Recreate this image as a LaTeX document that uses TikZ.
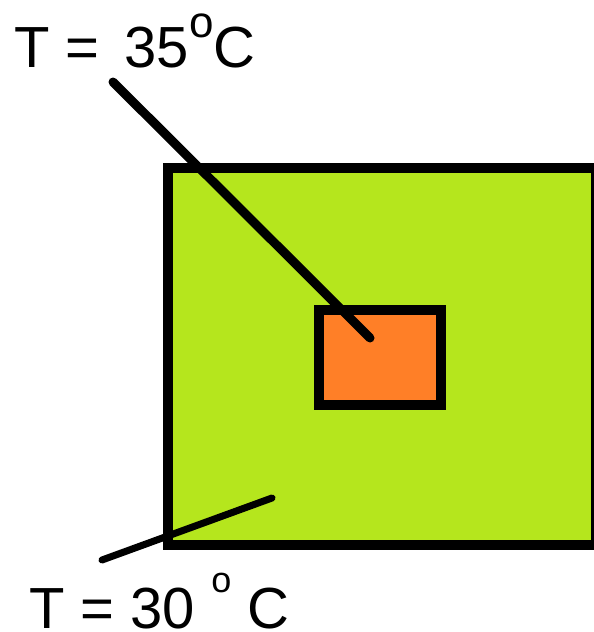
\documentclass[tikz,border=0pt]{standalone}
\usepackage{fontspec}
\setmainfont{Liberation Sans}
\definecolor{plategreen}{RGB}{181,230,29}
\definecolor{coreorange}{RGB}{255,127,39}
\tikzset{
  box/.style={draw,line width=10pt,inner sep=0pt,outer sep=0pt},
  probe/.style={line width=#1,line cap=round},
  temp/.style={anchor=base west,inner sep=0pt,font=\fontsize{58}{60}\selectfont}
}
\begin{document}
\begin{tikzpicture}[x=1pt,y=-1pt]
\useasboundingbox (0,0) rectangle (594,632);
\clip (0,0) rectangle (594,632);
\fill[white] (0,0) rectangle (594,632);
% plate and hot core
\node[box,fill=plategreen,minimum width=428pt,minimum height=377pt,anchor=north west] (plate) at (168,168) {};
\node[box,fill=coreorange,minimum width=122pt,minimum height=95pt] (core) at (380,357.5) {};
% labels
\node[temp] (lab35) at (14,67) {T =\hspace{9pt} 35\raisebox{30pt}{\fontsize{44}{44}\selectfont o}C};
\node[temp] (lab30) at (29,628) {T = 30 \raisebox{36pt}{\fontsize{36}{36}\selectfont o} C};
% probe lines
\coordinate (from35) at (113,82);
\coordinate (tip35) at (370,338);
\coordinate (from30) at (102,560);
\coordinate (tip30) at (272,498);
\draw[probe=9pt] (from35) -- (tip35);
\draw[probe=7pt] (from30) -- (tip30);
\end{tikzpicture}
\end{document}
